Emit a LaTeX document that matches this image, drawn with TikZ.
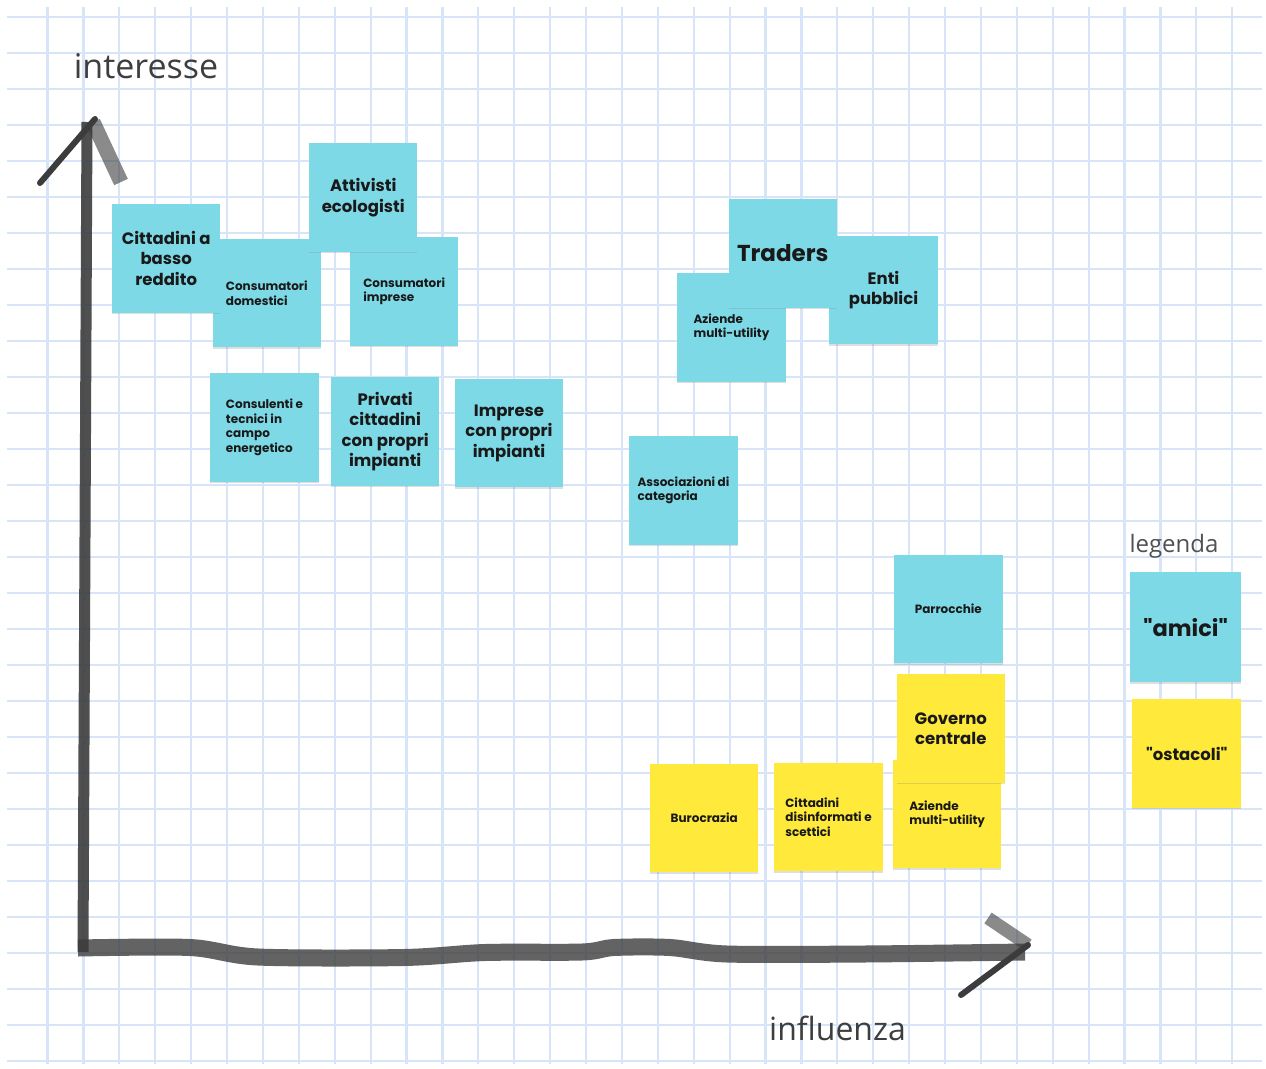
\documentclass[tikz,border=0pt]{standalone}
\usepackage{fontspec}
\setmainfont{Poppins}[Ligatures=TeXOff]
\newfontfamily\labelfont{Open Sans}
\usetikzlibrary{shadows}

\definecolor{gridblue}{RGB}{216,228,248}
\definecolor{noteblue}{RGB}{126,217,231}
\definecolor{noteyellow}{RGB}{255,233,59}
\definecolor{inkgray}{RGB}{60,60,60}
\definecolor{labelgray}{RGB}{62,62,62}

\tikzset{
  gridline/.style={draw=gridblue, line width=2.2},
  note/.style={minimum width=108.5, minimum height=108.5, inner sep=0pt, text=black!90,
    font=\bfseries\fontsize{12}{14.5}\selectfont, align=left,
    drop shadow={shadow xshift=0pt, shadow yshift=-1.5pt, opacity=.25}},
  friend/.style={note, fill=noteblue},
  foe/.style={note, fill=noteyellow},
  bigtext/.style={font=\bfseries\fontsize{16.5}{20.5}\selectfont, align=center},
  hugetext/.style={font=\bfseries\fontsize{23}{26}\selectfont, align=center},
  brush/.style={draw=inkgray, line cap=round, line join=round},
  axislabel/.style={font=\labelfont\fontsize{34}{34}\selectfont, text=labelgray, anchor=base}
}

\begin{document}
\begin{tikzpicture}[x=1pt, y=-1pt]
		\useasboundingbox (0,0) rectangle (1266,1068);
		\fill [white] (0,0) rectangle (1266,1068);
		\foreach \i in {0,...,33}
			\draw [gridline] ({47.5+35.9*\i},7) -- ({47.5+35.9*\i},1064);
		\foreach \j in {0,...,29}
			\draw [gridline] (7,{16.7+36*\j}) -- (1262,{16.7+36*\j});

		\node [axislabel] (interesse) at (146,78) {interesse};
		\node [axislabel, font=\labelfont\fontsize{32}{32}\selectfont] (influenza) at (837.5,1040) {influenza};
		\node [axislabel, font=\labelfont\fontsize{24}{24}\selectfont, text=labelgray!90] (legenda) at (1174,552) {legenda};

		\coordinate (origin) at (83,952);
		\coordinate (ytip) at (87,122);
		\coordinate (xtip) at (1028,945);
		\draw [brush, line width=11, line cap=butt, opacity=.9] (origin) -- (ytip);
		\draw [brush, line width=6] (95,119) -- (40,183);
		\draw [brush, line width=15, opacity=.6, line cap=butt] (93,122) -- (121,182);
		\draw [brush, line width=17, opacity=.8, line cap=butt] plot [smooth, tension=.5] coordinates {(78,948) (190,947.5) (258,957) (404,957.5) (485,952.5) (582,952) (614,947.5) (670,947.5) (727,954) (864,954) (1025,952)};
		\draw [brush, line width=13, opacity=.6, line cap=butt] (988,918) -- (xtip);
		\draw [brush, line width=6] (xtip) -- (961,995);

		\node [friend] (domestici) at (266.8,293.2) {Consumatori\\domestici};
		\node [friend, bigtext] (basso) at (166.2,258.3) {Cittadini a\\basso\\reddito};
		\node [friend] (imprese) at (404.2,291.5) {Consumatori\\imprese};
		\node [friend, bigtext] (attivisti) at (363.2,197.5) {Attivisti\\ecologisti};
		\node [friend] (consulenti) at (264.5,427.5) {Consulenti e\\tecnici in\\campo\\energetico};
		\node [friend, bigtext] (privati) at (385.2,431.7) {Privati\\cittadini\\con propri\\impianti};
		\node [friend, bigtext] (impianti) at (509,433) {Imprese\\con propri\\impianti};
		\node [friend] (multiblue) at (731.5,327.5) {Aziende\\multi-utility};
		\node [friend, bigtext] (enti) at (883.5,290) {Enti\\pubblici};
		\node [friend, hugetext] (traders) at (782.8,253.3) {Traders};
		\node [friend] (associazioni) at (683.5,490.5) {Associazioni di\\categoria};
		\node [friend] (parrocchie) at (948.3,609) {Parrocchie};

		\node [foe] (multiyellow) at (947.2,814.2) {Aziende\\multi-utility};
		\node [foe, bigtext] (governo) at (950.8,728.5) {Governo\\centrale};
		\node [foe] (burocrazia) at (704.2,818.2) {Burocrazia};
		\node [foe] (disinformati) at (828.5,816.8) {Cittadini\\disinformati e\\scettici};

		\node [friend, hugetext, font=\bfseries\fontsize{22.5}{26}\selectfont, minimum width=111, minimum height=110] (amici) at (1185.5,627.3) {"amici"};
		\node [foe, bigtext] (ostacoli) at (1186.7,753.7) {"ostacoli"};
	\end{tikzpicture}
\end{document}
